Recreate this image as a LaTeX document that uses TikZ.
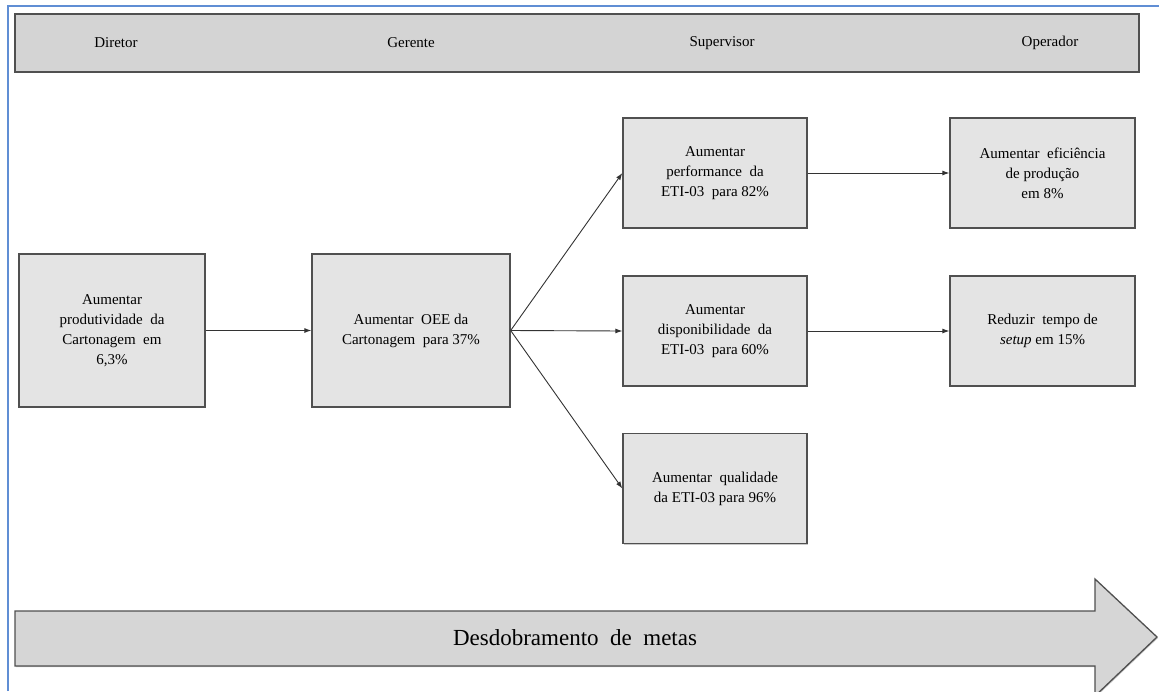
\documentclass[tikz,border=0pt]{standalone}
\usepackage{fontspec}
\setmainfont{Liberation Serif}
\usetikzlibrary{arrows.meta,shadows}
\definecolor{frameblue}{RGB}{96,142,212}
\definecolor{hdrfill}{RGB}{212,212,212}
\definecolor{boxfill}{RGB}{228,228,228}
\definecolor{arrfill}{RGB}{214,214,214}
\definecolor{edge}{RGB}{80,80,80}
\tikzset{
  goalbox/.style={draw=edge, line width=1.3pt, fill=boxfill, align=center,
    font=\fontsize{15}{20}\selectfont, inner sep=2pt,
    drop shadow={shadow xshift=1pt, shadow yshift=-1pt, fill=gray!60, opacity=0.7}},
  hdrbar/.style={draw=edge, line width=1.3pt, fill=hdrfill,
    drop shadow={shadow xshift=1pt, shadow yshift=-1pt, fill=gray!60, opacity=0.7}},
  hdrlabel/.style={font=\fontsize{15}{18}\selectfont, inner sep=0pt},
  conn/.style={draw=black!80, line width=0.9pt, -{Latex[length=7pt,width=5pt]}},
}
\begin{document}
\begin{tikzpicture}[x=1pt,y=-1pt]
\useasboundingbox (0,0) rectangle (1159,691);
% blue frame
\draw[frameblue, line width=1.8pt] (8,691) -- (8,6) -- (1159,6);
% header
\node[hdrbar, minimum width=1124pt, minimum height=58pt] (hdr) at (577,43) {};
\node[hdrlabel] (ldir) at (116,43) {Diretor};
\node[hdrlabel] (lger) at (411,43) {Gerente};
\node[hdrlabel] (lsup) at (722,43) {Supervisor};
\node[hdrlabel] (lope) at (1050,43) {Operador};
% boxes
\node[goalbox, minimum width=186pt, minimum height=153pt] (b1) at (112,330.5)
  {Aumentar\\produtividade\ \ da\\Cartonagem\ \ em\\6,3\%};
\node[goalbox, minimum width=198pt, minimum height=153pt] (b2) at (411,330.5)
  {Aumentar\ \ OEE da\\Cartonagem\ \ para 37\%};
\node[goalbox, minimum width=184pt, minimum height=110pt] (p) at (715,173)
  {Aumentar\\performance\ \ da\\ETI-03\ \ para 82\%};
\node[goalbox, minimum width=184pt, minimum height=110pt] (d) at (715,331)
  {Aumentar\\disponibilidade\ \ da\\ETI-03\ \ para 60\%};
\node[goalbox, minimum width=184pt, minimum height=110pt] (q) at (715,488.5)
  {Aumentar\ \ qualidade\\da ETI-03\ para 96\%};
\node[goalbox, minimum width=185pt, minimum height=110pt] (e) at (1042.5,173)
  {Aumentar\ \ eficiência\\de produção\\em 8\%};
\node[goalbox, minimum width=185pt, minimum height=110pt] (s) at (1042.5,331)
  {Reduzir\ \ tempo de\\\textit{setup} em 15\%};
% connectors
\draw[conn] (b1.east) -- (b2.west);
\draw[conn] (b2.east) -- (p.west);
\draw[conn] (b2.east) -- (d.west);
\draw[conn] (b2.east) -- (q.west);
\draw[conn] (p.east) -- (e.west);
\draw[conn] (d.east) -- (s.west);
% big arrow
\draw[draw=edge, line width=1.3pt, fill=arrfill,
  drop shadow={shadow xshift=1pt, shadow yshift=-1pt, fill=gray!60, opacity=0.7}]
  (15,611) -- (1095,611) -- (1095,579) -- (1157,637) -- (1095,696) -- (1095,666) -- (15,666) -- cycle;
\node[font=\fontsize{23}{27}\selectfont] (meta) at (575,638) {Desdobramento\ \ de\ \ metas};
\end{tikzpicture}
\end{document}
